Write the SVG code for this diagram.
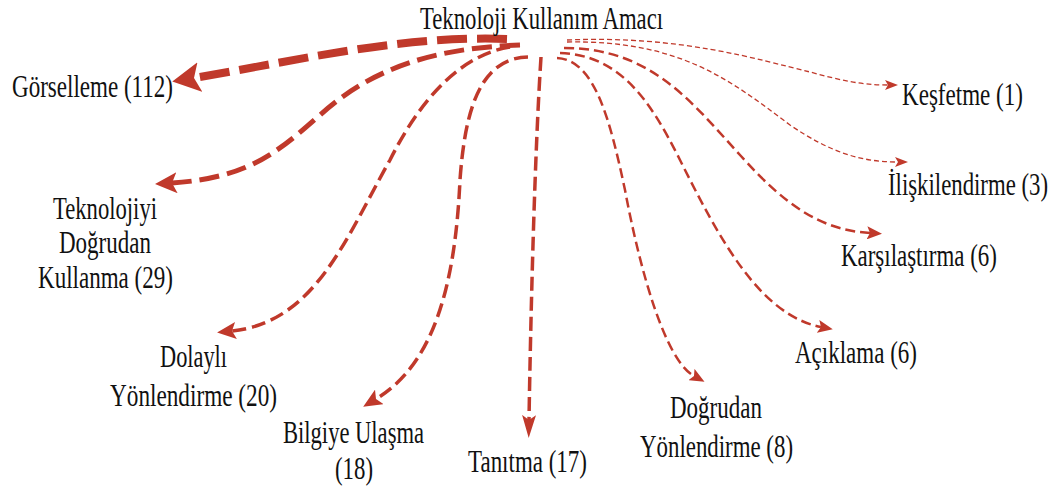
<svg xmlns="http://www.w3.org/2000/svg" width="1052" height="495" viewBox="0 0 1052 495">
<style>
text{font-family:"Liberation Serif","Times New Roman",serif;font-size:32px;fill:#111;}
.c{fill:none;stroke:#C0392B;}
.w8{stroke-width:8;stroke-dasharray:30 10;}
.w5{stroke-width:5;stroke-dasharray:20 8;}
.w35{stroke-width:3.5;stroke-dasharray:14 6;}
.w25{stroke-width:2.5;stroke-dasharray:10 5;}
.w13{stroke-width:1.3;stroke-dasharray:5 3;}
.ah{fill:#C0392B;}
</style>
<defs>
<marker id="mBig" markerUnits="userSpaceOnUse" viewBox="0 0 28 30" markerWidth="28" markerHeight="30" refX="6" refY="15" orient="auto"><path class="ah" d="M0,0 L28,15 L0,30 L6,15 z"/></marker>
<marker id="mMed" markerUnits="userSpaceOnUse" viewBox="0 0 22 21" markerWidth="22" markerHeight="21" refX="5" refY="10.5" orient="auto"><path class="ah" d="M0,0 L22,10.5 L0,21 L5,10.5 z"/></marker>
<marker id="mNorm" markerUnits="userSpaceOnUse" viewBox="0 0 19 17" markerWidth="19" markerHeight="17" refX="4" refY="8.5" orient="auto"><path class="ah" d="M0,0 L19,8.5 L0,17 L4,8.5 z"/></marker>
<marker id="mTall" markerUnits="userSpaceOnUse" viewBox="0 0 23 14" markerWidth="23" markerHeight="14" refX="5" refY="7" orient="auto"><path class="ah" d="M0,0 L23,7 L0,14 L5,7 z"/></marker>
<marker id="mSmall" markerUnits="userSpaceOnUse" viewBox="0 0 15 13" markerWidth="15" markerHeight="13" refX="3" refY="6.5" orient="auto"><path class="ah" d="M0,0 L15,6.5 L0,13 L3,6.5 z"/></marker>
<marker id="mTiny" markerUnits="userSpaceOnUse" viewBox="0 0 13 10" markerWidth="13" markerHeight="10" refX="3" refY="5" orient="auto"><path class="ah" d="M0,0 L13,5 L0,10 L3,5 z"/></marker>
</defs>
<g id="connectors">
<path class="c w8" marker-end="url(#mBig)" d="M507 39 C400 35,290 62,194 78"/>
<path class="c w5" marker-end="url(#mMed)" d="M520 45 C430 48,370 70,320 115 C280 150,250 178,172 183"/>
<path class="c w35" marker-end="url(#mNorm)" d="M510 47 C460 55,420 100,390 160 C345 240,315 322,232 331"/>
<path class="c w35" marker-end="url(#mNorm)" d="M528 57 C480 58,465 110,460 180 C455 290,432 365,376 399"/>
<path class="c w35" marker-end="url(#mTall)" d="M541 57 C535 150,531 300,529 420"/>
<path class="c w25" marker-end="url(#mSmall)" d="M557 58 C595 60,610 120,625 190 C640 270,665 360,694 376"/>
<path class="c w25" marker-end="url(#mSmall)" d="M560 53 C620 55,650 100,680 160 C720 240,760 315,821 327"/>
<path class="c w25" marker-end="url(#mSmall)" d="M564 48 C650 48,690 100,740 155 C785 205,820 230,870 233"/>
<path class="c w13" marker-end="url(#mTiny)" d="M567 42 C680 40,730 80,790 125 C830 152,860 162,898 162"/>
<path class="c w13" marker-end="url(#mTiny)" d="M567 40 C680 35,760 60,810 72 C840 80,860 85,888 85"/>
</g>
<g id="root"><text transform="translate(420 29) scale(0.67 1)" textLength="362.7" lengthAdjust="spacingAndGlyphs">Teknoloji Kullanım Amacı</text></g>
<g id="gorselleme"><text transform="translate(12 97) scale(0.67 1)" textLength="240.3" lengthAdjust="spacingAndGlyphs">Görselleme (112)</text></g>
<g id="teknolojiyi"><text transform="translate(53 219) scale(0.67 1)" textLength="155.2" lengthAdjust="spacingAndGlyphs">Teknolojiyi</text><text transform="translate(59 253) scale(0.67 1)" textLength="137.3" lengthAdjust="spacingAndGlyphs">Doğrudan</text><text transform="translate(38 288) scale(0.67 1)" textLength="201.5" lengthAdjust="spacingAndGlyphs">Kullanma (29)</text></g>
<g id="dolayli"><text transform="translate(160 367) scale(0.67 1)" textLength="100" lengthAdjust="spacingAndGlyphs">Dolaylı</text><text transform="translate(110 406) scale(0.67 1)" textLength="249.3" lengthAdjust="spacingAndGlyphs">Yönlendirme (20)</text></g>
<g id="bilgiye"><text transform="translate(283 443) scale(0.67 1)" textLength="210.4" lengthAdjust="spacingAndGlyphs">Bilgiye Ulaşma</text><text transform="translate(335 479) scale(0.67 1)" textLength="56.7" lengthAdjust="spacingAndGlyphs">(18)</text></g>
<g id="tanitma"><text transform="translate(468 472) scale(0.67 1)" textLength="177.6" lengthAdjust="spacingAndGlyphs">Tanıtma (17)</text></g>
<g id="dogrudan"><text transform="translate(670 418) scale(0.67 1)" textLength="137.3" lengthAdjust="spacingAndGlyphs">Doğrudan</text><text transform="translate(640 457) scale(0.67 1)" textLength="228.4" lengthAdjust="spacingAndGlyphs">Yönlendirme (8)</text></g>
<g id="aciklama"><text transform="translate(795 363) scale(0.67 1)" textLength="182.1" lengthAdjust="spacingAndGlyphs">Açıklama (6)</text></g>
<g id="karsilastirma"><text transform="translate(841 266) scale(0.67 1)" textLength="232.8" lengthAdjust="spacingAndGlyphs">Karşılaştırma (6)</text></g>
<g id="iliskilendirme"><text transform="translate(888 195) scale(0.67 1)" textLength="238.8" lengthAdjust="spacingAndGlyphs">İlişkilendirme (3)</text></g>
<g id="kesfetme"><text transform="translate(902 105) scale(0.67 1)" textLength="180.6" lengthAdjust="spacingAndGlyphs">Keşfetme (1)</text></g>
</svg>
